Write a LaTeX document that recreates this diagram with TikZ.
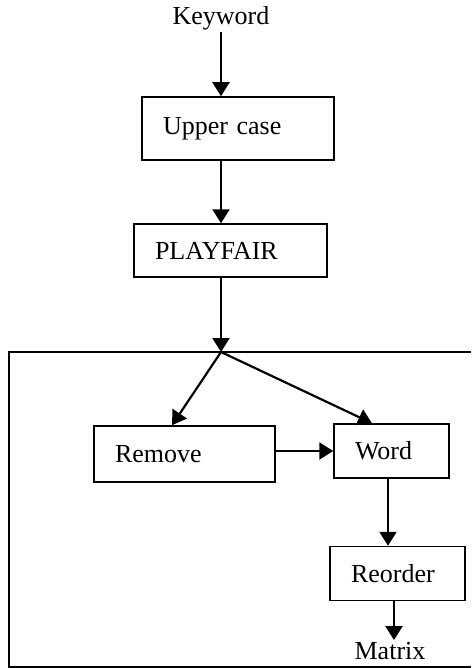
\documentclass[tikz,border=0pt]{standalone}
\usepackage{fontspec}
\setmainfont{Liberation Serif}
\usetikzlibrary{positioning,arrows.meta,calc}

\begin{document}
\begin{tikzpicture}[
    x=1pt, y=-1pt,
    font=\fontsize{26}{30}\selectfont,
    box/.style={draw=black, line width=1.5pt, rectangle, align=left,
        inner xsep=21pt, inner ysep=0pt},
    lab/.style={inner sep=2pt},
    flow/.style={-{Triangle[width=17pt,length=14pt]}, line width=2.2pt},
    frame/.style={draw=black, line width=1.6pt}
]
\useasboundingbox (0,0) rectangle (471,668);

% ---- outer frame (right side runs off the page) ----
\draw[frame] (471,352) -- (9,352) -- (9,667) -- (471,667);

% ---- top chain ----
\node[lab] (kw) at (221,18) {Keyword};
\node[box, text width=150pt, minimum height=63pt] (upper) at (238,128.5) {Upper case};
\node[box, text width=151pt, minimum height=53pt] (play) at (230.5,250.5) {PLAYFAIR};
\coordinate (split) at (221,352);

% ---- inside the frame ----
\node[box, text width=139pt, minimum height=56pt] (remove) at (184.5,454) {Remove};
\node[box, text width=73pt, minimum height=54pt] (word) at (391.5,451) {Word};
\node[box, text width=93pt, minimum height=54pt] (reorder) at (397.5,573.5) {Reorder};
\node[lab] (mtx) at (390,651) {Matrix};

% ---- connectors ----
\draw[flow] (kw.south) -- (kw.south |- upper.north);
\draw[flow] (upper.south -| kw) -- (play.north -| kw);
\draw[flow] (play.south -| split) -- (split);
\draw[flow] (split) -- ([xshift=-12.5pt]remove.north);
\draw[flow] (split) -- ([xshift=-19.5pt]word.north);
\draw[flow] (word.west -| remove.east) -- (word.west);
\draw[flow] ([xshift=-3.5pt]word.south) -- ([xshift=-3.5pt]word.south |- reorder.north);
\draw[flow] ([xshift=-3.5pt]reorder.south) -- ([xshift=-3.5pt]reorder.south |- mtx.north);

\end{tikzpicture}
\end{document}
